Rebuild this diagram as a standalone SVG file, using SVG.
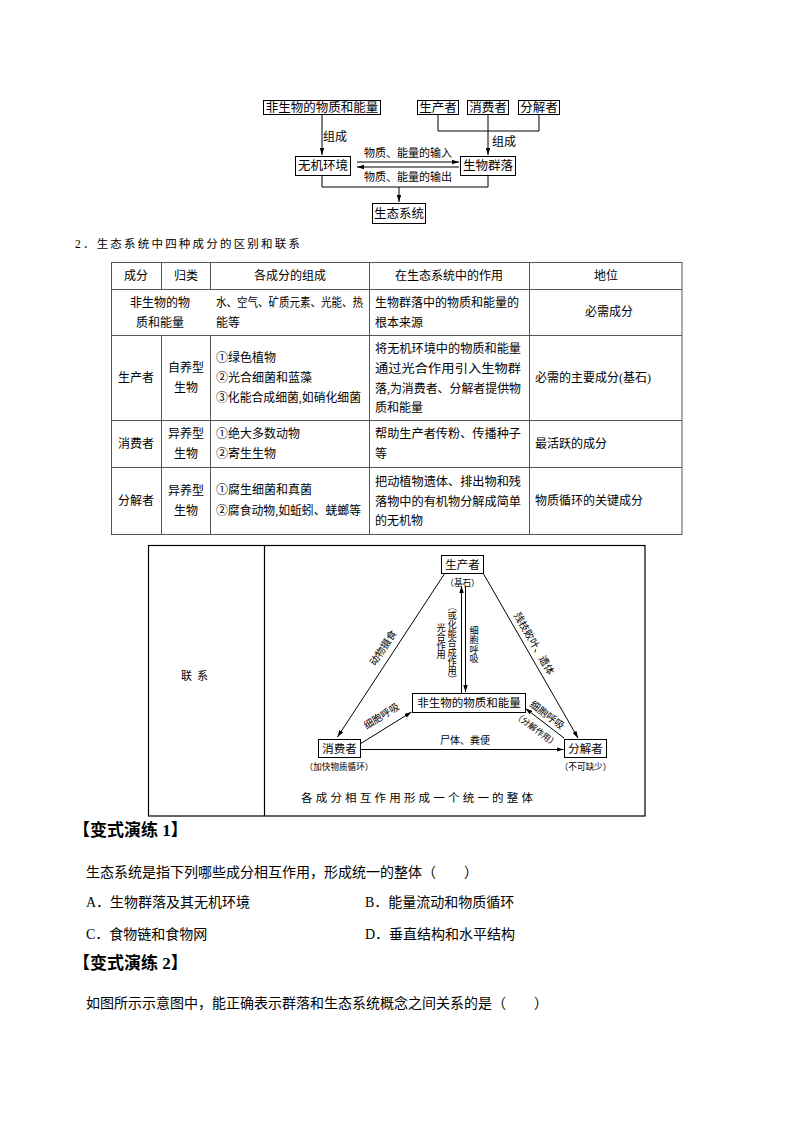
<svg xmlns="http://www.w3.org/2000/svg" width="794" height="1123" viewBox="0 0 794 1123">
<defs>
<style>
text{font-family:"Liberation Serif","Noto Sans CJK SC",serif;fill:#000;dominant-baseline:central}
.m{text-anchor:middle}
.box{fill:#fff;stroke:#000;stroke-width:1}
.ln{fill:none;stroke:#000;stroke-width:1}
.tb{fill:none;stroke:#555;stroke-width:1}
.f12{font-size:12px}
.f125{font-size:12.5px}
.f115{font-size:11.5px}
.f95{font-size:9.5px}
.p{font-size:8.6px}
.v{font-size:9.2px}
.f14{font-size:14px}
.h{font-size:17px;font-weight:700}
</style>
<marker id="ah" viewBox="0 0 10 10" refX="10" refY="5" markerWidth="7" markerHeight="4.5" markerUnits="userSpaceOnUse" orient="auto" preserveAspectRatio="none"><path d="M0,0 L10,5 L0,10 z" fill="#000"/></marker>
</defs>
<rect width="794" height="1123" fill="#fff"/>

<!-- Top concept diagram -->
<g id="top-connectors" class="ln">
<path d="M322 115 V155" marker-end="url(#ah)"/>
<path d="M438 115 V131 M488 115 V131 M539 115 V131 M438 131 H539"/>
<path d="M488 131 V155" marker-end="url(#ah)"/>
<path d="M357 162 H459" marker-end="url(#ah)"/>
<path d="M459 167 H357" marker-end="url(#ah)"/>
<path d="M322 176 V187 H488 V176"/>
<path d="M399 187 V202" marker-end="url(#ah)"/>
</g>
<g id="top-labels">
<text x="323" y="137" class="f12">组成</text>
<text x="492" y="142" class="f12">组成</text>
<text x="408" y="153" class="m" font-size="11">物质、能量的输入</text>
<text x="408" y="177" class="m" font-size="11">物质、能量的输出</text>
</g>
<g id="t-abiotic"><rect x="263.5" y="100.5" width="117" height="14" class="box"/><text x="322" y="107.5" class="m f125">非生物的物质和能量</text></g>
<g id="t-producer"><rect x="417.5" y="100.5" width="41" height="14" class="box"/><text x="438" y="107.5" class="m f125">生产者</text></g>
<g id="t-consumer"><rect x="467.5" y="100.5" width="41" height="14" class="box"/><text x="488" y="107.5" class="m f125">消费者</text></g>
<g id="t-decomposer"><rect x="518.5" y="100.5" width="41" height="14" class="box"/><text x="539" y="107.5" class="m f125">分解者</text></g>
<g id="t-inorganic"><rect x="295.5" y="156.5" width="55" height="19" class="box"/><text x="323" y="166" class="m f125">无机环境</text></g>
<g id="t-community"><rect x="460.5" y="156.5" width="55" height="19" class="box"/><text x="488" y="166" class="m f125">生物群落</text></g>
<g id="t-ecosystem"><rect x="372.5" y="203.5" width="53" height="20" class="box"/><text x="399" y="213.5" class="m f125">生态系统</text></g>

<!-- Heading -->
<text x="75" y="244" font-size="11.5" letter-spacing="2.2">2．生态系统中四种成分的区别和联系</text>

<!-- Table -->
<g id="table">
<rect x="111.5" y="262.5" width="570.5" height="272" class="tb"/>
<path class="tb" d="M111.5 289.5 H682 M111.5 335.5 H682 M111.5 420.5 H682 M111.5 467.5 H682"/>
<path class="tb" d="M161.5 262.5 V289.5 M161.5 335.5 V534.5 M210.5 262.5 V289.5 M210.5 335.5 V534.5 M369.5 262.5 V534.5 M529.5 262.5 V534.5"/>
<g class="f12">
<text x="136" y="276" class="m">成分</text>
<text x="186" y="276" class="m">归类</text>
<text x="290" y="276" class="m">各成分的组成</text>
<text x="449" y="276" class="m">在生态系统中的作用</text>
<text x="606" y="276" class="m">地位</text>

<text x="160" y="303" class="m">非生物的物</text>
<text x="160" y="323" class="m">质和能量</text>
<text x="216" y="303" textLength="147" lengthAdjust="spacingAndGlyphs">水、空气、矿质元素、光能、热</text>
<text x="216" y="323">能等</text>
<text x="375" y="303">生物群落中的物质和能量的</text>
<text x="375" y="323">根本来源</text>
<text x="609" y="312" class="m">必需成分</text>

<text x="136" y="378" class="m">生产者</text>
<text x="186" y="368" class="m">自养型</text>
<text x="186" y="388" class="m">生物</text>
<text x="216" y="358">①绿色植物</text>
<text x="216" y="378">②光合细菌和蓝藻</text>
<text x="216" y="398" textLength="145" lengthAdjust="spacingAndGlyphs">③化能合成细菌,如硝化细菌</text>
<text x="375" y="349" textLength="146" lengthAdjust="spacingAndGlyphs">将无机环境中的物质和能量</text>
<text x="375" y="369" textLength="146" lengthAdjust="spacingAndGlyphs">通过光合作用引入生物群</text>
<text x="375" y="389" textLength="146" lengthAdjust="spacingAndGlyphs">落,为消费者、分解者提供物</text>
<text x="375" y="408">质和能量</text>
<text x="535" y="378">必需的主要成分(基石)</text>

<text x="136" y="444" class="m">消费者</text>
<text x="186" y="434" class="m">异养型</text>
<text x="186" y="454" class="m">生物</text>
<text x="216" y="434">①绝大多数动物</text>
<text x="216" y="454">②寄生生物</text>
<text x="375" y="434" textLength="146" lengthAdjust="spacingAndGlyphs">帮助生产者传粉、传播种子</text>
<text x="375" y="454">等</text>
<text x="535" y="444">最活跃的成分</text>

<text x="136" y="501" class="m">分解者</text>
<text x="186" y="491" class="m">异养型</text>
<text x="186" y="511" class="m">生物</text>
<text x="216" y="490">①腐生细菌和真菌</text>
<text x="216" y="511" textLength="145" lengthAdjust="spacingAndGlyphs">②腐食动物,如蚯蚓、蜣螂等</text>
<text x="375" y="482" textLength="146" lengthAdjust="spacingAndGlyphs">把动植物遗体、排出物和残</text>
<text x="375" y="502" textLength="146" lengthAdjust="spacingAndGlyphs">落物中的有机物分解成简单</text>
<text x="375" y="521">的无机物</text>
<text x="535" y="501">物质循环的关键成分</text>
</g>
</g>

<!-- Relationship figure -->
<g id="rel-frame">
<rect x="148.5" y="545.5" width="496.5" height="270.5" fill="none" stroke="#000" stroke-width="1.2"/>
<path d="M264.5 545.5 V816" stroke="#000" stroke-width="1.2"/>
<text x="197" y="676" class="m" font-size="11" letter-spacing="5">联系</text>
<text x="301" y="798" font-size="11.5" letter-spacing="3.2">各成分相互作用形成一个统一的整体</text>
</g>
<g id="rel-connectors" class="ln">
<path d="M445 573 L337.5 737" marker-end="url(#ah)"/>
<path d="M483 573 L578 738" marker-end="url(#ah)"/>
<path d="M461.5 693 V586" marker-end="url(#ah)"/>
<path d="M465.5 587 V692" marker-end="url(#ah)"/>
<path d="M360 744 L411.5 712" marker-end="url(#ah)"/>
<path d="M564 738 L525.5 708.5" marker-end="url(#ah)"/>
<path d="M360 749.5 H563.5" marker-end="url(#ah)"/>
</g>
<g id="rel-labels">
<text transform="translate(383,648) rotate(-56.6)" class="m" font-size="10">动物摄食</text>
<text transform="translate(534,643.5) rotate(60)" class="m" font-size="10">残枝败叶、遗体</text>
<text transform="translate(381.5,716) rotate(-32)" class="m" font-size="10">细胞呼吸</text>
<text transform="translate(547,715) rotate(37)" class="m" font-size="10">细胞呼吸</text>
<text transform="translate(536,729.5) rotate(37)" class="m p">（分解作用）</text>
<text x="465" y="740" class="m" font-size="10">尸体、粪便</text>
<text class="m v"><tspan x="441" y="627.5">光</tspan><tspan x="441" y="636.8">合</tspan><tspan x="441" y="646.1">作</tspan><tspan x="441" y="655.4">用</tspan></text>
<text transform="translate(452,606.5) rotate(90)" class="m v">（</text>
<text class="m v"><tspan x="452" y="615.5">或</tspan><tspan x="452" y="624.8">化</tspan><tspan x="452" y="634.1">能</tspan><tspan x="452" y="643.4">合</tspan><tspan x="452" y="652.7">成</tspan><tspan x="452" y="662">作</tspan><tspan x="452" y="671.3">用</tspan></text>
<text transform="translate(452,679) rotate(90)" class="m v">）</text>
<text class="m v"><tspan x="474" y="631">细</tspan><tspan x="474" y="640.3">胞</tspan><tspan x="474" y="649.6">呼</tspan><tspan x="474" y="658.9">吸</tspan></text>
</g>
<g id="r-producer"><rect x="441.5" y="555.5" width="42" height="18" class="box"/><text x="462.5" y="564.5" class="m f115">生产者</text><text x="462.5" y="583" class="m p">（基石）</text></g>
<g id="r-abiotic"><rect x="412.5" y="693.5" width="113" height="19" class="box"/><text x="469" y="703" class="m f115">非生物的物质和能量</text></g>
<g id="r-consumer"><rect x="318.5" y="739.5" width="42" height="18" class="box"/><text x="339.5" y="748.5" class="m f115">消费者</text><text x="339" y="766.5" class="m p">（加快物质循环）</text></g>
<g id="r-decomposer"><rect x="564.5" y="739.5" width="42" height="18" class="box"/><text x="585.5" y="748.5" class="m f115">分解者</text><text x="585.5" y="766.5" class="m p">（不可缺少）</text></g>

<!-- Exercises -->
<g id="exercises">
<text x="73" y="830" class="h">【变式演练 1】</text>
<text x="86" y="872" class="f14">生态系统是指下列哪些成分相互作用，形成统一的整体（　　）</text>
<text x="86" y="902" class="f14">A．生物群落及其无机环境</text>
<text x="365" y="902" class="f14">B．能量流动和物质循环</text>
<text x="86" y="934" class="f14">C．食物链和食物网</text>
<text x="365" y="934" class="f14">D．垂直结构和水平结构</text>
<text x="73" y="963" class="h">【变式演练 2】</text>
<text x="86" y="1003" class="f14">如图所示示意图中，能正确表示群落和生态系统概念之间关系的是（　　）</text>
</g>
</svg>
